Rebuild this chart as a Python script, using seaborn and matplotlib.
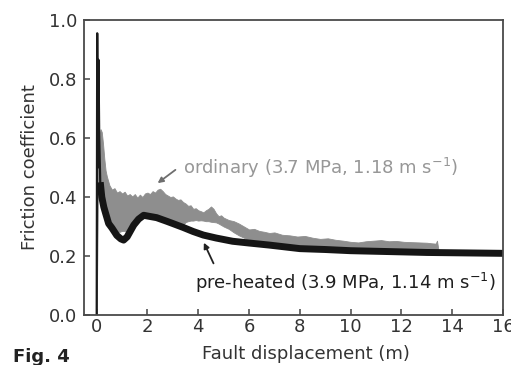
import numpy as np
import pandas as pd
import matplotlib
matplotlib.use("Agg")
import matplotlib.pyplot as plt
import seaborn as sns

# ---- data ----
# ordinary run: grey noisy band (upper / lower envelope)
ordinary_x = [0.00, 0.05, 0.10, 0.15, 0.20, 0.25, 0.30, 0.35, 0.40, 0.50, 0.60, 0.70,
              0.80, 0.90, 1.00, 1.10, 1.20, 1.30, 1.40, 1.50, 1.60, 1.70, 1.80, 1.90,
              2.00, 2.10, 2.20, 2.30, 2.40, 2.50, 2.60, 2.70, 2.80, 2.90, 3.00, 3.10,
              3.20, 3.30, 3.40, 3.50, 3.60, 3.70, 3.80, 3.90, 4.00, 4.10, 4.20, 4.30,
              4.40, 4.50, 4.60, 4.70, 4.80, 4.90, 5.00, 5.20, 5.40, 5.60, 5.80, 6.00,
              6.20, 6.40, 6.60, 6.80, 7.00, 7.30, 7.60, 7.90, 8.20, 8.50, 8.80, 9.10,
              9.40, 9.70, 10.0, 10.3, 10.6, 10.9, 11.2, 11.5, 11.8, 12.1, 12.4, 12.7,
              13.0, 13.2, 13.35, 13.4, 13.45]
ordinary_hi = [0.30, 0.55, 0.60, 0.63, 0.62, 0.58, 0.53, 0.49, 0.47, 0.44, 0.425, 0.43,
               0.415, 0.42, 0.412, 0.418, 0.405, 0.41, 0.402, 0.41, 0.398, 0.408, 0.40, 0.412,
               0.415, 0.41, 0.42, 0.415, 0.425, 0.428, 0.42, 0.41, 0.405, 0.40, 0.402, 0.395,
               0.39, 0.392, 0.383, 0.378, 0.37, 0.372, 0.36, 0.362, 0.355, 0.352, 0.348, 0.355,
               0.36, 0.368, 0.36, 0.345, 0.335, 0.338, 0.33, 0.322, 0.318, 0.31, 0.30, 0.29,
               0.292, 0.285, 0.282, 0.278, 0.28, 0.272, 0.27, 0.266, 0.268, 0.262, 0.258, 0.26,
               0.255, 0.252, 0.248, 0.246, 0.25, 0.252, 0.254, 0.25, 0.251, 0.248, 0.247, 0.246,
               0.245, 0.243, 0.242, 0.252, 0.225]
ordinary_lo = [0.00, 0.40, 0.45, 0.42, 0.39, 0.37, 0.36, 0.345, 0.335, 0.315, 0.30, 0.29,
               0.28, 0.282, 0.285, 0.285, 0.28, 0.29, 0.30, 0.31, 0.32, 0.328, 0.335, 0.338,
               0.335, 0.334, 0.333, 0.33, 0.328, 0.325, 0.322, 0.318, 0.315, 0.312, 0.31, 0.306,
               0.303, 0.30, 0.305, 0.315, 0.318, 0.32, 0.32, 0.322, 0.32, 0.321, 0.32, 0.318,
               0.318, 0.316, 0.315, 0.314, 0.31, 0.305, 0.30, 0.292, 0.28, 0.27, 0.262, 0.25,
               0.245, 0.243, 0.241, 0.239, 0.236, 0.233, 0.23, 0.228, 0.226, 0.224, 0.223, 0.222,
               0.221, 0.22, 0.219, 0.219, 0.218, 0.218, 0.217, 0.217, 0.216, 0.216, 0.215, 0.215,
               0.214, 0.214, 0.214, 0.214, 0.214]

# pre-heated run: black curve (first 6 points = thin initial spike)
preheated_x = [0.00, 0.02, 0.05, 0.07, 0.10, 0.14, 0.20, 0.28, 0.35, 0.47, 0.60, 0.79,
               0.95, 1.06, 1.20, 1.46, 1.65, 1.85, 2.10, 2.36, 2.75, 3.00, 3.40, 3.80,
               4.20, 4.70, 5.35, 6.00, 6.80, 7.50, 8.00, 9.00, 10.0, 11.0, 12.0, 13.0,
               14.0, 15.0, 16.0]
preheated_y = [0.00, 0.955, 0.50, 0.865, 0.60, 0.45, 0.40, 0.366, 0.345, 0.31, 0.295, 0.27,
               0.258, 0.254, 0.265, 0.305, 0.325, 0.338, 0.334, 0.33, 0.318, 0.31, 0.297, 0.283,
               0.271, 0.261, 0.25, 0.244, 0.237, 0.23, 0.225, 0.222, 0.218, 0.216, 0.214, 0.212,
               0.211, 0.21, 0.209]
spike_n = 6

x_ticks = [0, 2, 4, 6, 8, 10, 12, 14, 16]
y_ticks = [0.0, 0.2, 0.4, 0.6, 0.8, 1.0]

ordinary_label = r"ordinary (3.7 MPa, 1.18 m s$^{-1}$)"
preheated_label = r"pre-heated (3.9 MPa, 1.14 m s$^{-1}$)"

# ---- style ----
sns.set_theme(style="ticks")
plt.rcParams["font.family"] = ["DejaVu Sans"]
plt.rcParams["font.size"] = 13

fig = plt.figure(figsize=(5.11, 3.65), dpi=100)
ax = fig.add_axes([84 / 511, 50 / 365, 419 / 511, 295 / 365])

# grey band for the ordinary run
ax.fill_between(ordinary_x, ordinary_lo, ordinary_hi, color="#8e8e8e", lw=0.6,
                edgecolor="#8e8e8e")

# black pre-heated curve
pre = pd.DataFrame({"x": preheated_x, "y": preheated_y})
sns.lineplot(data=pre.iloc[:spike_n + 1], x="x", y="y", ax=ax, color="#1a1a1a",
             lw=1.6, sort=False, estimator=None)
sns.lineplot(data=pre.iloc[spike_n - 1:], x="x", y="y", ax=ax, color="#151515",
             lw=5.0, sort=False, estimator=None, solid_capstyle="butt")

ax.set_xlim(-0.5, 16)
ax.set_ylim(0, 1)
ax.set_xticks(x_ticks)
ax.set_yticks(y_ticks)
ax.set_yticklabels([f"{v:.1f}" for v in y_ticks])
ax.tick_params(direction="in", length=4, width=1.1, color="#444444",
               labelcolor="#333333", labelsize=13)
ax.tick_params(axis="x", pad=2)
ax.tick_params(axis="y", pad=5)
for s in ax.spines.values():
    s.set_color("#4a4a4a")
    s.set_linewidth(1.3)

ax.set_ylabel("Friction coefficient", fontsize=13, color="#333333", labelpad=7)
ax.set_xlabel("Fault displacement (m)", fontsize=13, color="#333333")
ax.xaxis.set_label_coords(222 / 419, -30 / 295)

# annotations
ax.text(3.39, 0.498, ordinary_label, color="#979797", fontsize=13,
        ha="left", va="center")
ax.annotate("", xy=(2.4, 0.447), xytext=(3.1, 0.492),
            arrowprops=dict(arrowstyle="-|>", color="#6e6e6e", lw=1.3,
                            mutation_scale=8, shrinkA=0, shrinkB=0))
ax.text(3.89, 0.108, preheated_label, color="#1e1e1e", fontsize=13,
        ha="left", va="center")
ax.annotate("", xy=(4.22, 0.245), xytext=(4.6, 0.175),
            arrowprops=dict(arrowstyle="-|>", color="#222222", lw=1.3,
                            mutation_scale=8, shrinkA=0, shrinkB=0))

fig.text(13 / 511, 1 - 348 / 365, "Fig. 4", fontsize=13, fontweight="bold",
         color="#222222", ha="left", va="top")

fig.savefig("out.png", dpi=100)
